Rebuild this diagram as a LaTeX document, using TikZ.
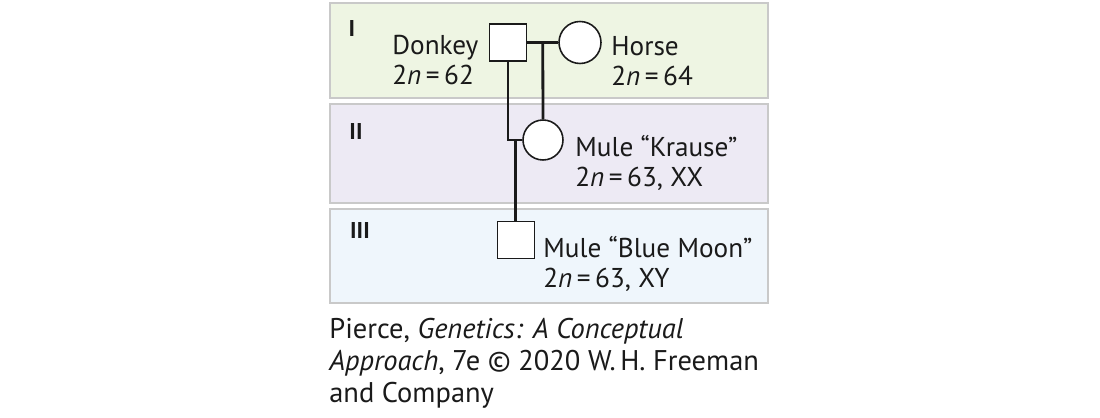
\documentclass[tikz,border=0pt]{standalone}
\usepackage{fontspec}
\setmainfont{PT Sans}
\usetikzlibrary{positioning, calc}
\definecolor{bandgreen}{HTML}{EEF5E3}
\definecolor{bandlilac}{HTML}{EDEAF4}
\definecolor{bandblue}{HTML}{EFF6FC}
\definecolor{bandborder}{HTML}{C9C9C9}
\definecolor{inkblack}{HTML}{1A1A1A}

\begin{document}
\begin{tikzpicture}[x=0.02cm, y=-0.02cm,
    band/.style={draw=bandborder, line width=1.1pt},
    male/.style={draw=inkblack, fill=white, line width=0.9pt,
      minimum size=0.74cm, inner sep=0pt},
    female/.style={circle, draw=inkblack, fill=white, line width=0.9pt,
      minimum size=0.8cm, inner sep=0pt},
    namelabel/.style={anchor=north west, inner sep=0pt, align=left,
      font=\fontsize{15.5}{17}\selectfont, text=inkblack},
    genlabel/.style={inner sep=0pt, font=\fontsize{13}{14}\selectfont\bfseries,
      text=inkblack},
    pedline/.style={draw=inkblack, line width=1.6pt},
]
\useasboundingbox (0,0) rectangle (1100,418);
% generation bands
\draw[band, fill=bandgreen] (330,3) rectangle (768,98);
\draw[band, fill=bandlilac] (330,104) rectangle (768,203);
\draw[band, fill=bandblue]  (330,209) rectangle (768,303);
\node[genlabel] (genI)   at (352,29)  {I};
\node[genlabel] (genII)  at (356,132) {II};
\node[genlabel] (genIII) at (360,231) {III};
% individuals
\node[male]   (donkey)   at (508,42.5) {};
\node[female, minimum size=0.84cm] (horse) at (580,42.5) {};
\node[female] (krause)   at (543,140)  {};
\node[male]   (bluemoon) at (516,240)  {};
% matings and descent
\coordinate (mate1) at ($(donkey.east)!0.5!(horse.west)$);
\coordinate (corner) at (donkey.south |- krause.west);
\coordinate (mate2) at ($(corner)!0.5!(krause.west)$);
\draw[pedline] (donkey.east) -- (horse.west);
\draw[pedline] (mate1) -- (krause.north);
\draw[pedline] (donkey.south) |- (krause.west);
\draw[pedline] (mate2) -- (mate2 |- bluemoon.north);
% labels
\node[namelabel] (donkeytxt) at (392,35)
    {Donkey\\2\textit{n}\,=\,62};
\node[namelabel] (horsetxt) at (611,36)
    {Horse\\2\textit{n}\,=\,64};
\node[namelabel] (krausetxt) at (575,135)
    {Mule “Krause”\\2\textit{n}\,=\,63, XX};
\node[namelabel] (bluemoontxt) at (543,236)
    {Mule “Blue Moon”\\2\textit{n}\,=\,63, XY};
\node[namelabel, font=\fontsize{16.2}{18.2}\selectfont] (credit) at (329,318)
    {Pierce, \textit{Genetics: A Conceptual}\\
     \textit{Approach}, 7e © 2020 W.\,H. Freeman\\
     and Company};
\end{tikzpicture}
\end{document}
